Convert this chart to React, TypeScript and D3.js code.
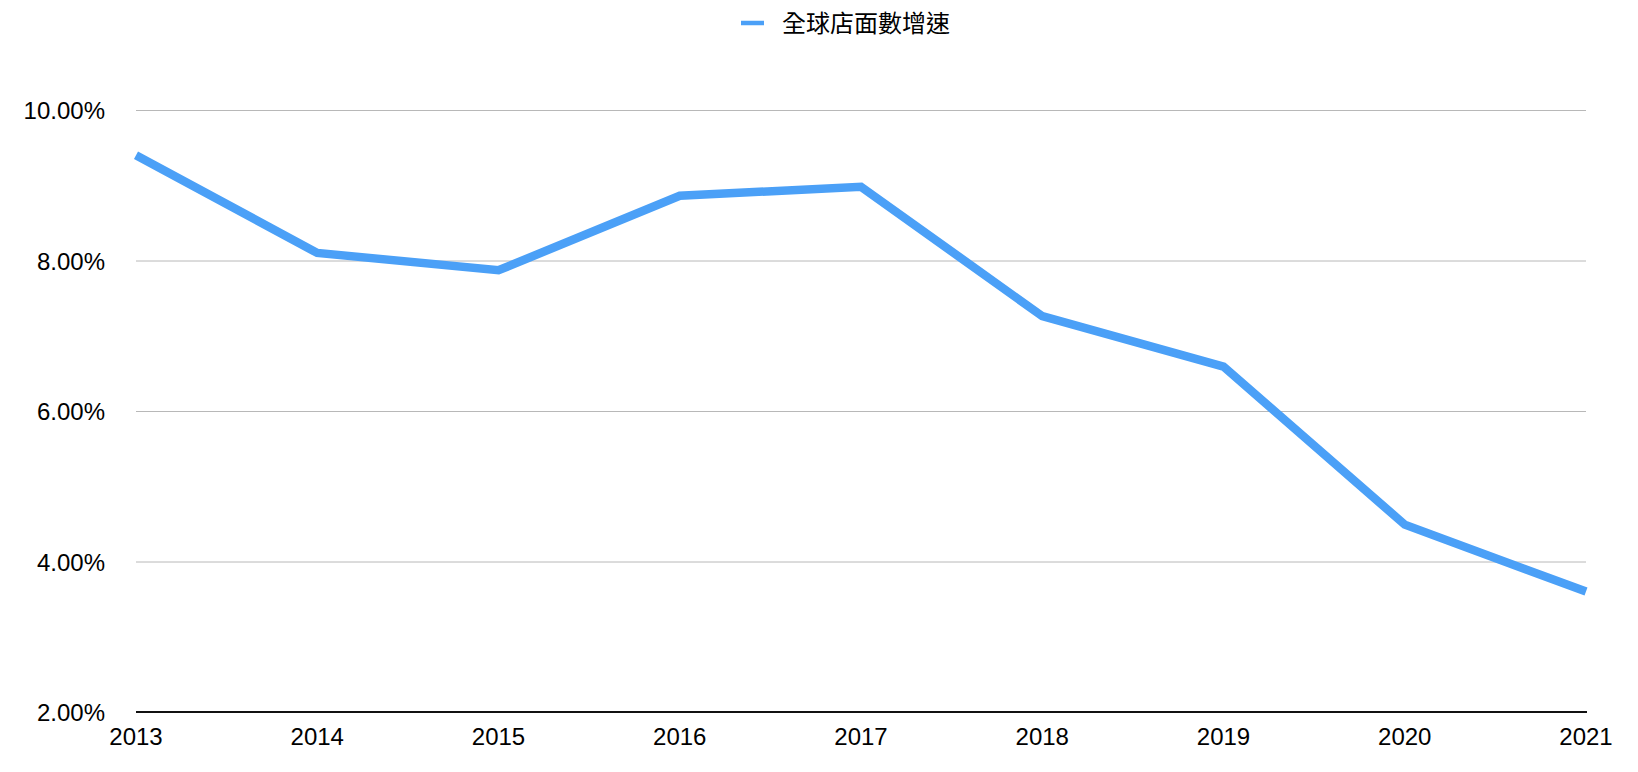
import React, { useRef, useEffect } from 'react';
import * as d3 from 'd3';

// chart data
const years = ['2013', '2014', '2015', '2016', '2017', '2018', '2019', '2020', '2021'];
const growth = [9.4, 8.1, 7.87, 8.86, 8.98, 7.26, 6.59, 4.49, 3.6];
const yTicks = [2, 4, 6, 8, 10];
const seriesName = '全球店面數增速';

const W = 1638;
const H = 772;
const LINE_COLOR = '#4ba0f7';
const FONT = '"Liberation Sans", Arial, Helvetica, sans-serif';

export default function App() {
  const svgRef = useRef<SVGSVGElement | null>(null);

  useEffect(() => {
    document.body.style.margin = '0';
    const svg = d3.select(svgRef.current);
    svg.selectAll('*').remove();

    const x = d3.scalePoint<string>().domain(years).range([136, 1586]);
    const y = d3.scaleLinear().domain([2, 10]).range([712, 110]);

    // gridlines
    svg.append('g')
      .selectAll('line')
      .data(yTicks.filter((t) => t !== 2))
      .join('line')
      .attr('x1', 136)
      .attr('x2', 1586)
      .attr('y1', (d) => y(d) + 0.5)
      .attr('y2', (d) => y(d) + 0.5)
      .attr('stroke', '#b8b8b8')
      .attr('stroke-width', 1);

    // baseline
    svg.append('line')
      .attr('x1', 136)
      .attr('x2', 1587)
      .attr('y1', y(2))
      .attr('y2', y(2))
      .attr('stroke', '#111')
      .attr('stroke-width', 2);

    // y labels
    svg.append('g')
      .selectAll('text')
      .data(yTicks)
      .join('text')
      .attr('x', 105)
      .attr('y', (d) => y(d) + 9)
      .attr('text-anchor', 'end')
      .attr('font-family', FONT)
      .attr('font-size', 24)
      .attr('fill', '#000')
      .text((d) => d3.format('.2f')(d) + '%');

    // x labels
    svg.append('g')
      .selectAll('text')
      .data(years)
      .join('text')
      .attr('x', (d) => x(d) as number)
      .attr('y', 745)
      .attr('text-anchor', 'middle')
      .attr('font-family', FONT)
      .attr('font-size', 24)
      .attr('fill', '#000')
      .text((d) => d);

    // series line
    const line = d3.line<number>()
      .x((_, i) => x(years[i]) as number)
      .y((d) => y(d));

    svg.append('path')
      .datum(growth)
      .attr('d', line)
      .attr('fill', 'none')
      .attr('stroke', LINE_COLOR)
      .attr('stroke-width', 8.5)
      .attr('stroke-linejoin', 'miter')
      .attr('stroke-linecap', 'butt');

    // legend
    const legend = svg.append('g');
    legend.append('line')
      .attr('x1', 741)
      .attr('x2', 764)
      .attr('y1', 23)
      .attr('y2', 23)
      .attr('stroke', LINE_COLOR)
      .attr('stroke-width', 4.5);
    legend.append('text')
      .attr('x', 782)
      .attr('y', 32)
      .attr('font-family', '"Noto Sans CJK TC", "Noto Sans CJK SC", sans-serif')
      .attr('font-size', 24)
      .attr('fill', '#000')
      .text(seriesName);
  }, []);

  return (
    <div style={{ position: 'absolute', left: 0, top: 0, width: W, height: H, background: '#fff' }}>
      <svg ref={svgRef} width={W} height={H} viewBox={`0 0 ${W} ${H}`} />
    </div>
  );
}
